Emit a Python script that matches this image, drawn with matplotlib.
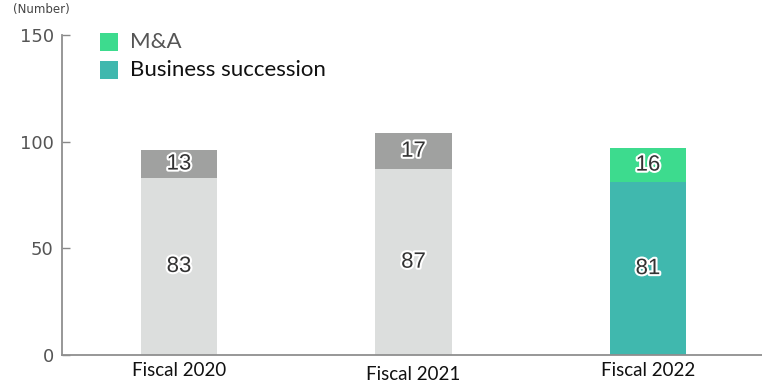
import matplotlib.pyplot as plt
import matplotlib.patheffects as pe
from matplotlib.patches import Rectangle
import numpy as np

years = ["Fiscal 2020", "Fiscal 2021", "Fiscal 2022"]
succession = [83, 87, 81]
mna = [13, 17, 16]

# earlier years in greys, the current year in colour
base_colors = ["#dcdedd", "#dcdedd", "#40b8ae"]
top_colors = ["#a0a1a0", "#a0a1a0", "#3ddb8e"]

fig = plt.figure(figsize=(7.62, 3.83), dpi=100)
W, H = 762, 383
ax = fig.add_axes([62 / W, (H - 355) / H, 700 / W, 320 / H])

x = np.arange(len(years))
width = 0.325
ax.bar(x, succession, width, color=base_colors)
ax.bar(x, mna, width, bottom=succession, color=top_colors)

stroke = [pe.withStroke(linewidth=3, foreground="white")]
for xi, b, t in zip(x, succession, mna):
    ax.text(xi, b / 2, str(b), ha="center", va="center", fontsize=16,
            color="#333333", family="Liberation Sans", path_effects=stroke)
    ax.text(xi, b + t / 2, str(t), ha="center", va="center", fontsize=16,
            color="#333333", family="Liberation Sans", path_effects=stroke)

ax.set_xlim(-0.499, 2.486)
ax.set_ylim(0, 150)
ax.set_yticks([0, 50, 100, 150])
ax.tick_params(axis="y", direction="in", length=6, width=1, color="#888888",
               labelsize=13, labelcolor="#555555", pad=6)
ax.set_xticks([])
for s in ["top", "right"]:
    ax.spines[s].set_visible(False)
for s in ["left", "bottom"]:
    ax.spines[s].set_color("#8f8f8f")
    ax.spines[s].set_linewidth(1.3)

# category labels sit just under the axis, the middle one a touch lower
label_y = [371, 374, 370]
for xi, name, py in zip(x, years, label_y):
    ax.annotate(name, xy=(xi, 0), xycoords=("data", "axes fraction"),
                xytext=(0, -(py - 355)), textcoords="offset pixels",
                ha="center", va="center", fontsize=13.5, family="Lato",
                color="#111111")

fig.text(13 / W, 1 - 10 / H, "(Number)", fontsize=8.5, color="#444444",
         va="center", ha="left")

# legend
for py, col, lab, tc in [(42, "#3ddb8e", "M&A", "#555555"),
                         (70, "#40b8ae", "Business succession", "#111111")]:
    fig.add_artist(Rectangle(((100) / W, 1 - (py + 9) / H), 18 / W, 18 / H,
                             transform=fig.transFigure, color=col, lw=0))
    fig.text(130 / W, 1 - py / H, lab, fontsize=16, color=tc, family="Lato",
             va="center", ha="left")

fig.savefig("out.png", dpi=100)
